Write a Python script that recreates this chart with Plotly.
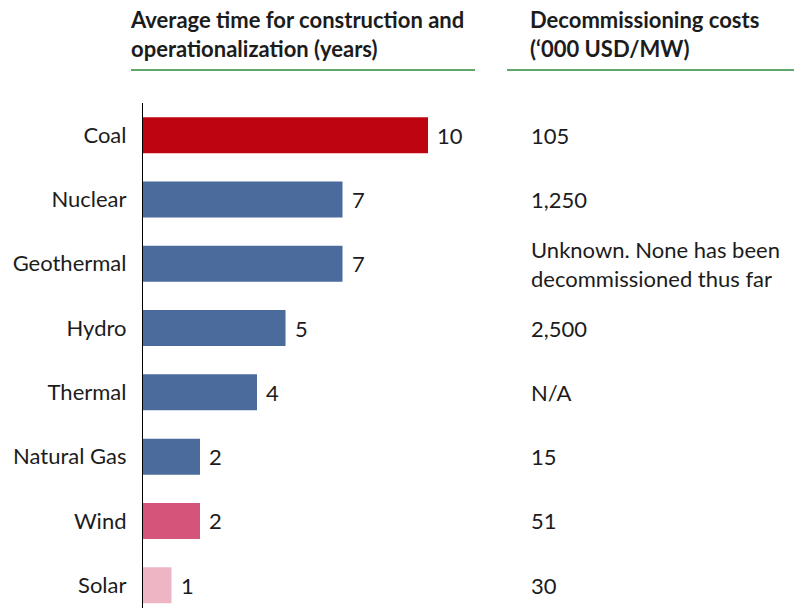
import plotly.graph_objects as go

# Data
technologies = ["Coal", "Nuclear", "Geothermal", "Hydro", "Thermal", "Natural Gas", "Wind", "Solar"]
build_years = [10, 7, 7, 5, 4, 2, 2, 1]
decom_costs = ["105", "1,250", "Unknown. None has been<br>decommissioned thus far",
               "2,500", "N/A", "15", "51", "30"]
bar_colors = ["#BE0411", "#4A6B9B", "#4A6B9B", "#4A6B9B", "#4A6B9B", "#4A6B9B", "#D5557A", "#EEB6C4"]

left_header = "<b>Average time for construction and<br>operationalization (years)</b>"
right_header = "<b>Decommissioning costs<br>(‘000 USD/MW)</b>"

W, H = 794, 608
L, T = 143, 103
plot_w = W - L
plot_h = H - T
px_per_year = 28.5

FONT = "Lato, 'Open Sans', sans-serif"
TXT = "#1c1c1c"
GREEN = "#2E8B3C"
LABEL_SIZE = 22
HEADER_SIZE = 22


def px_x(px):
    return (px - L) / plot_w


def px_y(py):
    return (H - py) / plot_h


pos = list(range(len(technologies)))

fig = go.Figure(go.Bar(
    x=build_years,
    y=pos,
    orientation="h",
    marker=dict(color=bar_colors, line=dict(width=0)),
    width=0.56,
    hoverinfo="skip",
))

annotations = []
# Value labels beside each bar
for p, v in zip(pos, build_years):
    annotations.append(dict(
        x=v, y=p, xref="x", yref="y", text=str(v), showarrow=False,
        xanchor="left", yanchor="middle", xshift=7,
        font=dict(family=FONT, size=LABEL_SIZE, color=TXT),
    ))
# Decommissioning cost column
for p, c in zip(pos, decom_costs):
    annotations.append(dict(
        x=px_x(529), y=p, xref="paper", yref="y", text=c, showarrow=False,
        xanchor="left", yanchor="middle", align="left",
        font=dict(family=FONT, size=LABEL_SIZE, color=TXT),
    ))
# Column headers
annotations.append(dict(
    x=px_x(128), y=px_y(64), xref="paper", yref="paper", text=left_header,
    showarrow=False, xanchor="left", yanchor="bottom", align="left",
    font=dict(family=FONT, size=HEADER_SIZE, color=TXT),
))
annotations.append(dict(
    x=px_x(528), y=px_y(64), xref="paper", yref="paper", text=right_header,
    showarrow=False, xanchor="left", yanchor="bottom", align="left",
    font=dict(family=FONT, size=HEADER_SIZE, color=TXT),
))

shapes = [
    dict(type="line", xref="paper", yref="paper", x0=px_x(131), x1=px_x(475),
         y0=px_y(70), y1=px_y(70), line=dict(color=GREEN, width=1.5)),
    dict(type="line", xref="paper", yref="paper", x0=px_x(507), x1=px_x(794),
         y0=px_y(70), y1=px_y(70), line=dict(color=GREEN, width=1.5)),
]

fig.update_layout(
    width=W, height=H,
    margin=dict(l=L, r=0, t=T, b=0, pad=0),
    paper_bgcolor="white", plot_bgcolor="white",
    showlegend=False,
    annotations=annotations,
    shapes=shapes,
    xaxis=dict(range=[0, plot_w / px_per_year], visible=False, fixedrange=True),
    yaxis=dict(
        range=[-0.5 + plot_h / 64.3, -0.5],
        tickvals=pos, ticktext=technologies,
        showline=True, linecolor="#000000", linewidth=1.2,
        showgrid=False, zeroline=False, ticks="",
        ticklabelstandoff=11,
        tickfont=dict(family=FONT, size=LABEL_SIZE, color=TXT),
        fixedrange=True,
    ),
)

fig.write_html("out.html")
